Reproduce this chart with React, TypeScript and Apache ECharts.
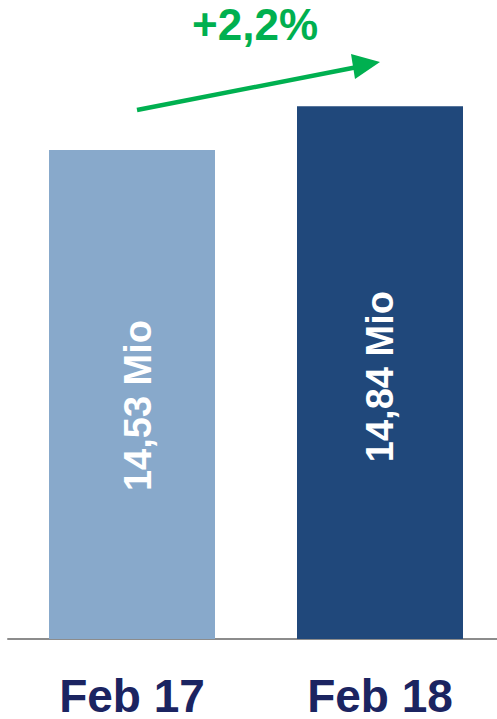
import React, { useEffect, useRef } from "react";
import * as echarts from "echarts";

const categories = ["Feb 17", "Feb 18"];
const values = [14.53, 14.84];
const barColors = ["#88A9CB", "#20487B"];
const changeLabel = "+2,2%";
const unit = "Mio";

export default function App() {
  const ref = useRef<HTMLDivElement>(null);
  useEffect(() => {
    if (!ref.current) return;
    const chart = echarts.init(ref.current, null, { renderer: "svg" });
    const font = "Liberation Sans, Arial, sans-serif";
    const labelOffsets = [[-11, 6], [-4, 0]];
    chart.setOption({
      animation: false,
      grid: { left: 8, right: 0, top: 13, bottom: 77 },
      xAxis: {
        type: "category",
        data: categories,
        axisLine: { lineStyle: { color: "#8C8C8C", width: 2 } },
        axisTick: { show: false },
        axisLabel: {
          color: "#1B2461",
          fontSize: 46,
          lineHeight: 36,
          fontWeight: "bold",
          fontFamily: font,
          margin: 39,
        },
      },
      yAxis: {
        type: "value",
        min: 11.07,
        max: 15.5,
        show: false,
        splitLine: { show: false },
      },
      series: [
        {
          type: "bar",
          barWidth: 166,
          data: values.map((v, i) => ({
            value: v,
            itemStyle: { color: barColors[i] },
            label: { offset: labelOffsets[i] },
          })),
          label: {
            show: true,
            position: "inside",
            rotate: 90,
            color: "#FFFFFF",
            fontSize: 38,
            fontWeight: "bold",
            fontFamily: font,
            formatter: (p: any) => p.value.toFixed(2).replace(".", ",") + " " + unit,
          },
        },
      ],
      graphic: [
        {
          type: "line",
          shape: { x1: 137, y1: 110, x2: 360, y2: 66.5 },
          style: { stroke: "#00B050", lineWidth: 4.5 },
        },
        {
          type: "polygon",
          shape: { points: [[380, 62], [351, 54], [355, 79]] },
          style: { fill: "#00B050" },
        },
        {
          type: "text",
          x: 255,
          y: 24,
          style: {
            text: changeLabel,
            fill: "#00B050",
            font: "bold 44px Liberation Sans, Arial, sans-serif",
            lineHeight: 44,
            textAlign: "center",
            textVerticalAlign: "middle",
          },
        },
      ],
    });
    return () => chart.dispose();
  }, []);
  return (
    <div style={{ position: "absolute", left: 0, top: 0, width: 497, height: 719, overflow: "hidden", background: "#fff" }}>
      <div ref={ref} style={{ width: 504, height: 719 }} />
    </div>
  );
}
